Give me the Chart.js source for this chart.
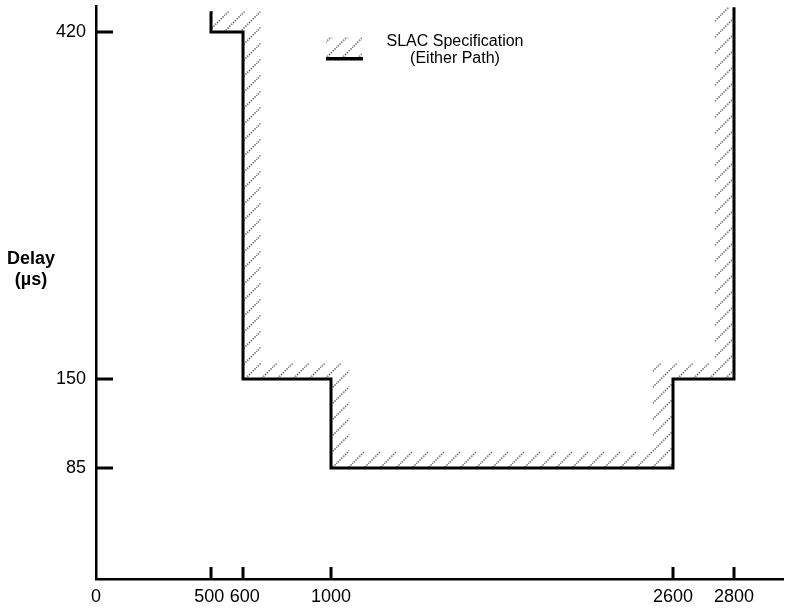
<!DOCTYPE html>
<html>
<head>
<meta charset="utf-8">
<script src="https://cdn.jsdelivr.net/npm/chart.js@4.4.1/dist/chart.umd.min.js"></script>
<style>
  html, body { margin: 0; padding: 0; background: #fff; }
  #wrap { width: 785px; height: 608px; position: relative; }
</style>
</head>
<body>
<div id="wrap"><canvas id="c"></canvas></div>
<script>
// ---- data ----
const xTicks = [0, 500, 600, 1000, 2600, 2800];
const yTicks = [85, 150, 420];

// measured delay limit (solid step line)
const stepX = [500, 500, 600, 600, 1000, 1000, 2600, 2600, 2800, 2800];
const stepY = [436, 420, 420, 150, 150, 85, 85, 150, 150, 439];

// SLAC specification band (hatched): inner edge = step line, outer edge back
const specX = [500, 500, 600, 600, 1000, 1000, 2600, 2600, 2800, 2800, 2738, 2738, 2505, 2505, 1085, 1085, 680, 680];
const specY = [436, 420, 420, 150, 150, 85, 85, 150, 150, 439, 439, 162, 162, 97, 97, 162, 162, 436];

const FONT = "'Liberation Sans', Arial, sans-serif";

// The original figure is not drawn to scale: piecewise axis (value -> px from axis start)
const KNOTS = {
  x: [[0, 0], [500, 115], [600, 147], [1000, 235], [2600, 577], [2800, 638], [3000, 687]],
  y: [[0, 0], [85, 111], [150, 200], [420, 547], [440, 573]],
};

class BentScale extends Chart.LinearScale {
  getPixelForValue(value) {
    const k = KNOTS[this.id];
    const span = k[k.length - 1][1];
    let i = 1;
    while (i < k.length - 1 && value > k[i][0]) i++;
    const [v0, p0] = k[i - 1], [v1, p1] = k[i];
    return this.getPixelForDecimal((p0 + (value - v0) * (p1 - p0) / (v1 - v0)) / span);
  }
  getValueForPixel(pixel) {
    const k = KNOTS[this.id];
    const p = this.getDecimalForPixel(pixel) * k[k.length - 1][1];
    let i = 1;
    while (i < k.length - 1 && p > k[i][1]) i++;
    const [v0, p0] = k[i - 1], [v1, p1] = k[i];
    return v0 + (p - p0) * (v1 - v0) / (p1 - p0);
  }
}
BentScale.id = 'bent';
BentScale.defaults = Chart.LinearScale.defaults;
Chart.register(BentScale);

function hatchPattern() {
  const c = document.createElement('canvas');
  c.width = c.height = 16;
  const g = c.getContext('2d');
  g.strokeStyle = '#7a7a7a'; g.lineWidth = 1.6; g.setLineDash([1.6, 1]);
  g.beginPath(); g.moveTo(-2, 18); g.lineTo(18, -2); g.stroke();
  return g.createPattern(c, 'repeat');
}
const HATCH = hatchPattern();

// tick marks point inward in the original
const innerTicks = {
  id: 'innerTicks',
  afterDraw(chart) {
    const { ctx, chartArea: a, scales: { x, y } } = chart;
    ctx.save();
    ctx.strokeStyle = '#000'; ctx.lineWidth = 3;
    ctx.beginPath();
    x.ticks.forEach(t => {
      if (t.value === 0) return;
      const px = Math.round(x.getPixelForValue(t.value));
      ctx.moveTo(px, a.bottom); ctx.lineTo(px, a.bottom - 12);
    });
    y.ticks.forEach(t => {
      const py = Math.round(y.getPixelForValue(t.value));
      ctx.moveTo(a.left, py); ctx.lineTo(a.left + 17, py);
    });
    ctx.stroke();
    ctx.restore();
  },
};

// y title (horizontal) + legend box
const extras = {
  id: 'extras',
  afterDraw(chart) {
    const { ctx } = chart;
    ctx.save();
    ctx.fillStyle = '#000';
    ctx.textAlign = 'center'; ctx.textBaseline = 'middle';
    ctx.font = 'bold 18px ' + FONT;
    ctx.fillText('Delay', 31, 259);
    ctx.fillText('(\u00b5s)', 31, 280);

    // legend sample
    ctx.fillStyle = HATCH;
    ctx.fillRect(326, 37, 36, 20);
    ctx.fillStyle = '#000';
    ctx.fillRect(326, 57, 37, 3.5);
    ctx.font = '16px ' + FONT;
    ctx.fillText('SLAC Specification', 455, 42);
    ctx.fillText('(Either Path)', 455, 59);
    ctx.restore();
  },
};

// 500 and 600 sit close together: nudge their labels apart a little
const xLabel = v => v === 500 ? '500\u2009' : v === 600 ? '\u2009600' : String(v);

new Chart(document.getElementById('c'), {
  type: 'scatter',
  data: {
    datasets: [
      { label: 'Delay', data: stepX.map((x, i) => ({ x, y: stepY[i] })),
        showLine: true, borderColor: '#000', borderWidth: 3, pointRadius: 0,
        fill: false, tension: 0, borderJoinStyle: 'miter' },
      { label: 'SLAC Specification (Either Path)', data: specX.map((x, i) => ({ x, y: specY[i] })),
        showLine: true, borderWidth: 0, borderColor: 'rgba(0,0,0,0)', pointRadius: 0,
        fill: 'shape', backgroundColor: HATCH, tension: 0 },
    ],
  },
  options: {
    responsive: true, maintainAspectRatio: false, animation: false,
    layout: { padding: { top: 6, right: 2, left: 0, bottom: 0 } },
    scales: {
      x: {
        type: 'bent', min: 0, max: 3000,
        afterBuildTicks: s => { s.ticks = xTicks.map(v => ({ value: v })); },
        afterFit: s => { s.height = 29; s.paddingLeft = 0; s.paddingRight = 0; },
        grid: { display: false, drawTicks: false },
        border: { color: '#000', width: 2.5 },
        ticks: { padding: 7, color: '#000', autoSkip: false, maxRotation: 0,
          font: { family: FONT, size: 18 }, callback: xLabel },
      },
      y: {
        type: 'bent', min: 0, max: 440,
        afterBuildTicks: s => { s.ticks = yTicks.map(v => ({ value: v })); },
        afterFit: s => { s.width = 96; s.paddingTop = 0; s.paddingBottom = 0; },
        grid: { display: false, drawTicks: false },
        border: { color: '#000', width: 2.5 },
        ticks: { padding: 10, color: '#000', autoSkip: false,
          font: { family: FONT, size: 18 }, callback: v => String(v) },
      },
    },
    plugins: { legend: { display: false }, tooltip: { enabled: false } },
  },
  plugins: [innerTicks, extras],
});
</script>
</body>
</html>
